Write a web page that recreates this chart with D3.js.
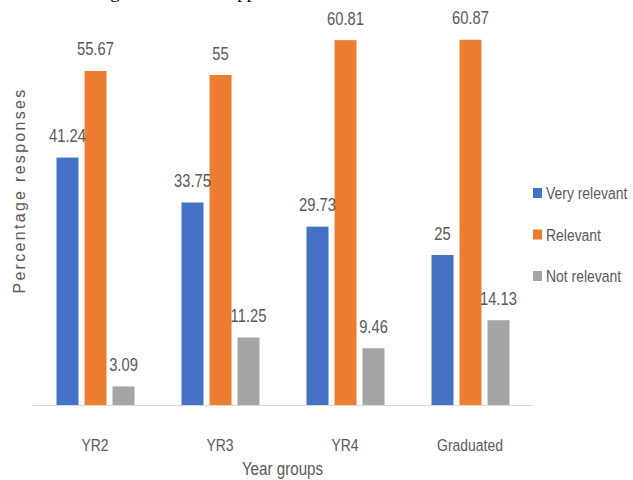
<!DOCTYPE html>
<html>
<head>
<meta charset="utf-8">
<script src="https://cdn.jsdelivr.net/npm/d3@7"></script>
<style>
  body { margin: 0; background: #fff; }
  svg { display: block; }
</style>
</head>
<body>
<div id="chart"></div>
<script>
// chart data
var groups = ["YR2", "YR3", "YR4", "Graduated"];
var seriesNames = ["Very relevant", "Relevant", "Not relevant"];
var veryRelevant = [41.24, 33.75, 29.73, 25];
var relevant = [55.67, 55, 60.81, 60.87];
var notRelevant = [3.09, 11.25, 9.46, 14.13];
var colors = ["#4472C4", "#ED7D31", "#A5A5A5"];

var width = 633, height = 480;
var sans = "'Liberation Sans', Arial, sans-serif";
// the original uses a condensed office font, so squeeze Liberation Sans a bit
var squeeze = "scale(0.82,1)";

var svg = d3.select("#chart")
  .append("svg")
    .attr("width", width)
    .attr("height", height);

// clipped caption line from the page above the figure (only descenders show)
svg.append("text")
  .attr("x", 55)
  .attr("y", -2.5)
  .style("font-family", "'Liberation Serif', serif")
  .style("font-size", "19px")
  .style("fill", "#000")
  .text("Training relevance for application");

var x0 = d3.scaleBand()
  .domain(groups)
  .range([32.5, 532.5]);

var x1 = d3.scaleBand()
  .domain(seriesNames)
  .range([24, 102])
  .paddingInner(0.214);

var y = d3.scaleLinear()
  .domain([0, 65])
  .range([405, 15]);

var color = d3.scaleOrdinal()
  .domain(seriesNames)
  .range(colors);

// build rows for each group
var rows = groups.map(function(g, i) {
  return {
    group: g,
    values: [
      {key: seriesNames[0], value: veryRelevant[i]},
      {key: seriesNames[1], value: relevant[i]},
      {key: seriesNames[2], value: notRelevant[i]}
    ]
  };
});

// x axis
var xAxis = svg.append("g")
  .attr("transform", "translate(0,405)")
  .call(d3.axisBottom(x0).tickSize(0).tickPadding(34));
xAxis.select(".domain")
  .attr("stroke", "#d9d9d9")
  .attr("stroke-width", 1.2);
xAxis.selectAll("text")
  .attr("transform", squeeze)
  .style("font-family", sans)
  .style("font-size", "17px")
  .style("fill", "#595959");

var grp = svg.selectAll(".grp")
  .data(rows)
  .enter()
  .append("g")
    .attr("class", "grp")
    .attr("transform", function(d) { return "translate(" + x0(d.group) + ",0)"; });

grp.selectAll("rect")
  .data(function(d) { return d.values; })
  .enter()
  .append("rect")
    .attr("x", function(d) { return x1(d.key); })
    .attr("y", function(d) { return y(d.value); })
    .attr("width", x1.bandwidth())
    .attr("height", function(d) { return y(0) - y(d.value); })
    .attr("fill", function(d) { return color(d.key); });

grp.selectAll("text.val")
  .data(function(d) { return d.values; })
  .enter()
  .append("text")
    .attr("class", "val")
    .attr("transform", function(d) {
      return "translate(" + (x1(d.key) + x1.bandwidth() / 2) + "," + (y(d.value) - 15.5) + ") " + squeeze;
    })
    .attr("text-anchor", "middle")
    .style("font-family", sans)
    .style("font-size", "18px")
    .style("fill", "#595959")
    .text(function(d) { return d.value; });

// axis titles
svg.append("text")
  .attr("transform", "translate(282.5,475) " + squeeze)
  .attr("text-anchor", "middle")
  .style("font-family", sans)
  .style("font-size", "18.5px")
  .style("fill", "#595959")
  .text("Year groups");

svg.append("text")
  .attr("transform", "translate(25,190.5) rotate(-90)")
  .attr("text-anchor", "middle")
  .style("font-family", sans)
  .style("font-size", "16px")
  .style("letter-spacing", "2.3px")
  .style("fill", "#595959")
  .text("Percentage responses");

// legend
var legend = svg.selectAll(".legend")
  .data(seriesNames)
  .enter()
  .append("g")
    .attr("class", "legend")
    .attr("transform", function(d, i) { return "translate(533," + (193 + i * 41.5) + ")"; });

legend.append("rect")
  .attr("x", 0)
  .attr("y", -5)
  .attr("width", 9)
  .attr("height", 10)
  .attr("fill", function(d) { return color(d); });

legend.append("text")
  .attr("transform", "translate(13,6) " + squeeze)
  .style("font-family", sans)
  .style("font-size", "17px")
  .style("fill", "#595959")
  .text(function(d) { return d; });
</script>
</body>
</html>
